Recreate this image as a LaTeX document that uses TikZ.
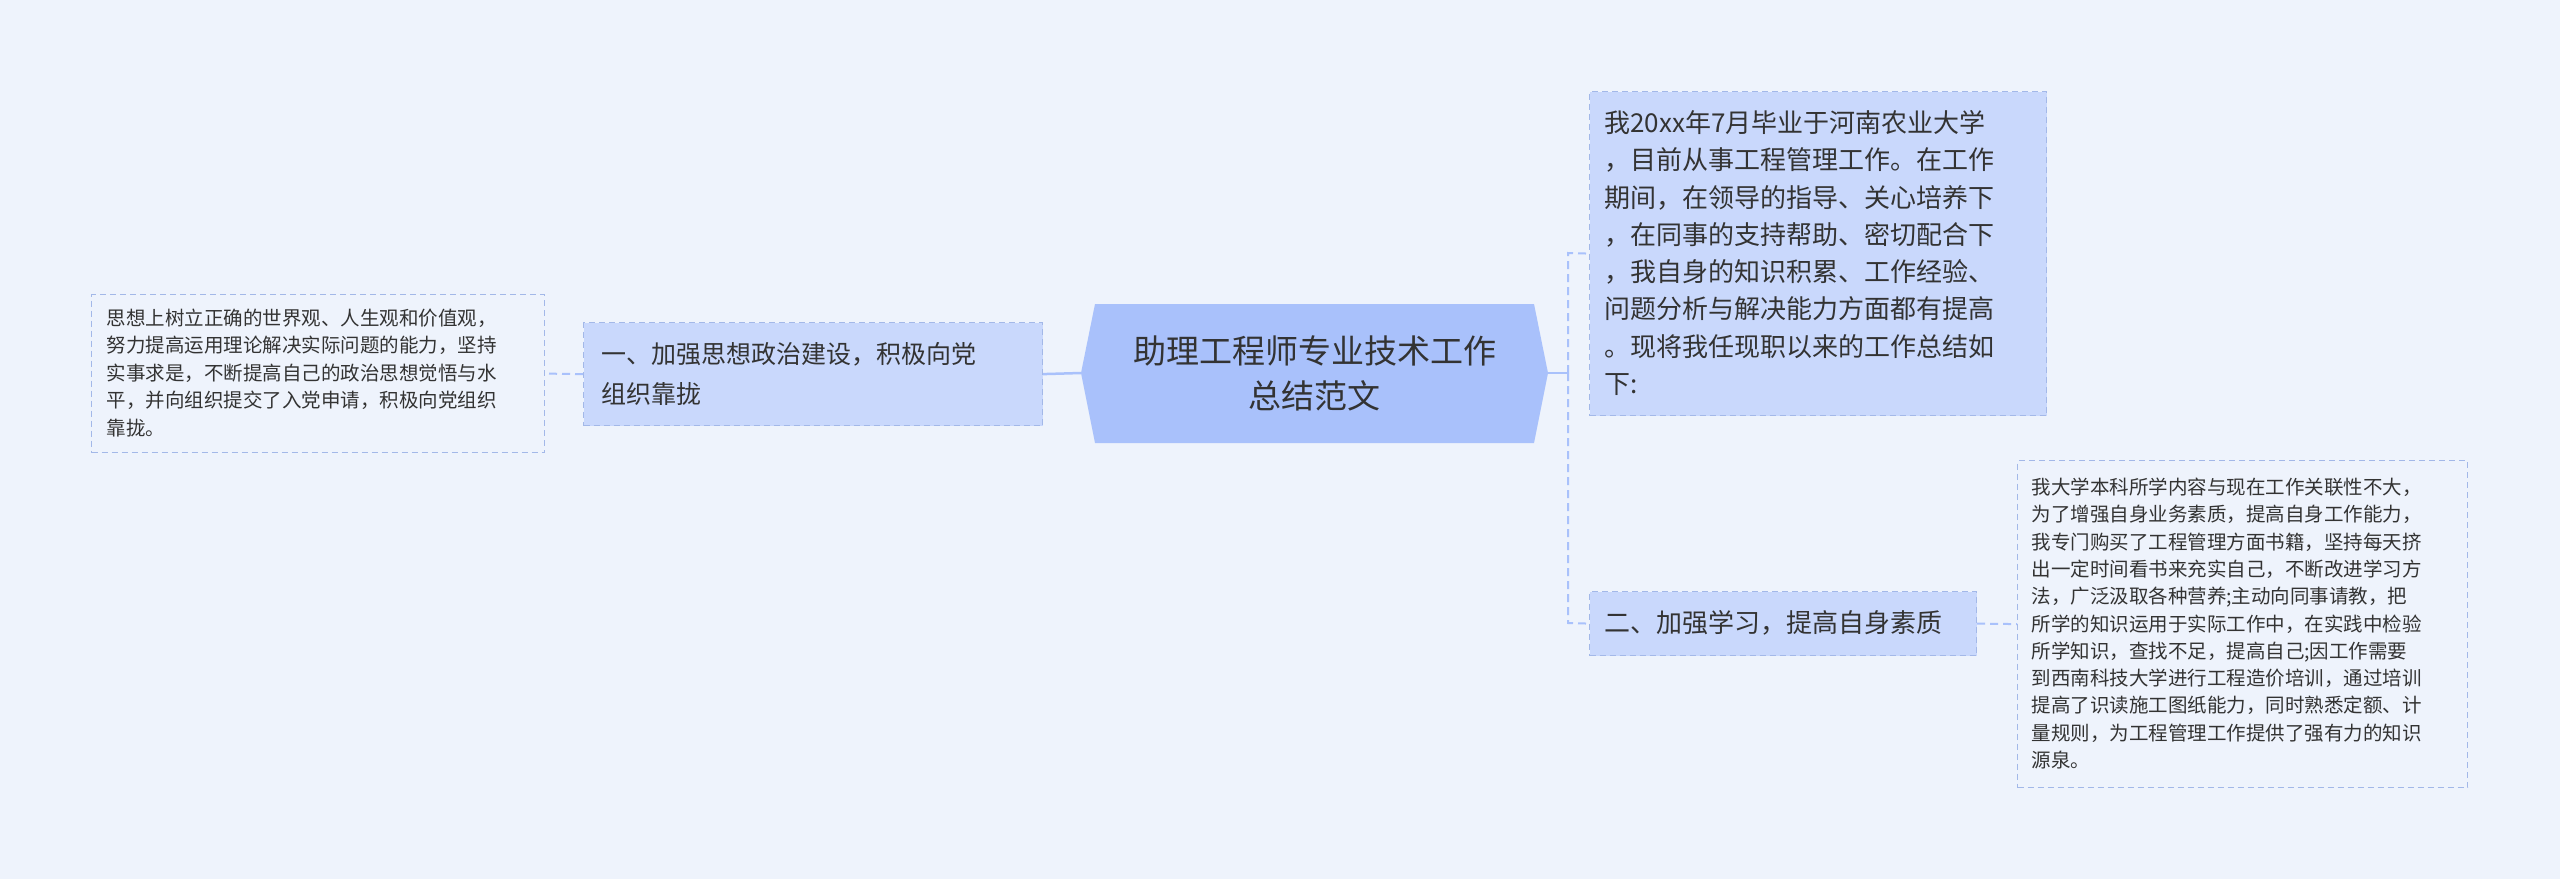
\documentclass[tikz,border=0pt]{standalone}
\usepackage{fontspec}
\setmainfont{Noto Sans CJK SC}
\usetikzlibrary{shapes.geometric}
\definecolor{bg}{HTML}{EEF3FC}
\definecolor{cfill}{HTML}{A9C1FB}
\definecolor{bfill}{HTML}{C9D8FC}
\definecolor{bline}{HTML}{A3B8E8}
\definecolor{txt}{HTML}{333333}
\tikzset{
  branch/.style={draw=bline,fill=bfill,dashed,dash pattern=on 6pt off 4pt,line width=1.2pt,inner sep=0pt,anchor=north west,text=txt},
  leaf/.style={draw=bline,dashed,dash pattern=on 6pt off 4pt,line width=1.2pt,inner sep=0pt,anchor=north west,text=txt},
  conn/.style={draw=cfill,line width=2.5pt},
  dconn/.style={draw=cfill,line width=2pt,dashed,dash pattern=on 8pt off 5pt},
}
\begin{document}
\begin{tikzpicture}[x=1pt,y=-1pt]
\fill[bg] (0,0) rectangle (2560,879);
\useasboundingbox (0,0) rectangle (2560,879);
% center hexagon
\fill[cfill] (1081,373) -- (1095,304) -- (1534,304) -- (1548,373) -- (1534,443) -- (1095,443) -- cycle;
\node[text=txt,font=\fontsize{33}{45}\selectfont,align=center] (c) at (1314.5,373) {助理工程师专业技术工作\\总结范文};
\coordinate (cl) at (1081,373);
\coordinate (cr) at (1548,373);
% left branch
\node[branch,minimum width=459pt,minimum height=103pt] (l1) at (583,322) {};
\node[text=txt,font=\fontsize{25}{40}\selectfont,align=left,anchor=west] at (598,373.5) {一、加强思想政治建设，积极向党\\组织靠拢};
\node[leaf,minimum width=453pt,minimum height=158pt] (l2) at (91,294) {};
\node[text=txt,font=\fontsize{19.5}{27.5}\selectfont,align=left,anchor=west] at (103,373) {思想上树立正确的世界观、人生观和价值观，\\努力提高运用理论解决实际问题的能力，坚持\\实事求是，不断提高自己的政治思想觉悟与水\\平，并向组织提交了入党申请，积极向党组织\\靠拢。};
% right branches
\node[branch,minimum width=457pt,minimum height=324pt] (r1) at (1589,91) {};
\node[text=txt,font=\fontsize{26}{37.3}\selectfont,align=left,anchor=west] at (1601,253) {我20xx年7月毕业于河南农业大学\\，目前从事工程管理工作。在工作\\期间，在领导的指导、关心培养下\\，在同事的支持帮助、密切配合下\\，我自身的知识积累、工作经验、\\问题分析与解决能力方面都有提高\\。现将我任现职以来的工作总结如\\下:};
\node[branch,minimum width=387pt,minimum height=64pt] (r2) at (1589,591) {};
\node[text=txt,font=\fontsize{26}{36}\selectfont,anchor=west] at (1601,623) {二、加强学习，提高自身素质};
\node[leaf,minimum width=450pt,minimum height=327pt] (r3) at (2017,460) {};
\node[text=txt,font=\fontsize{19.5}{27.3}\selectfont,align=left,anchor=west] at (2028,623.5) {我大学本科所学内容与现在工作关联性不大，\\为了增强自身业务素质，提高自身工作能力，\\我专门购买了工程管理方面书籍，坚持每天挤\\出一定时间看书来充实自己，不断改进学习方\\法，广泛汲取各种营养;主动向同事请教，把\\所学的知识运用于实际工作中，在实践中检验\\所学知识，查找不足，提高自己;因工作需要\\到西南科技大学进行工程造价培训，通过培训\\提高了识读施工图纸能力，同时熟悉定额、计\\量规则，为工程管理工作提供了强有力的知识\\源泉。};
% connectors
\coordinate (sp) at (1568,373);
\draw[conn] (cr) -- (sp);
\draw[dconn] (sp) -- (1568,253) -- (r1.west);
\draw[dconn] (sp) -- (1568,623) -- (r2.west);
\draw[conn] (cl) -- (l1.east);
\draw[dconn] (l1.west) -- (l2.east);
\draw[dconn] (r2.east) -- (r3.west);
\end{tikzpicture}
\end{document}
